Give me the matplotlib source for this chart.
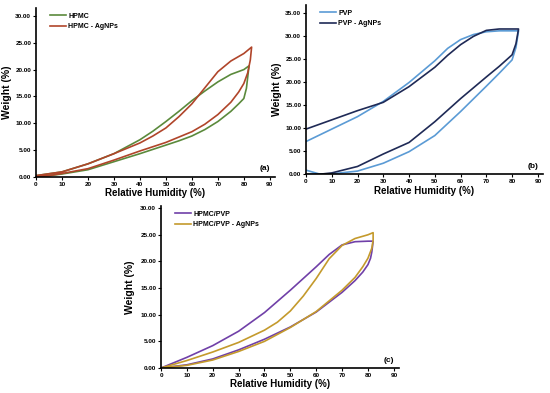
import matplotlib.pyplot as plt
from matplotlib.ticker import FormatStrFormatter, MultipleLocator

plt.rcParams['font.family'] = ['Liberation Sans', 'DejaVu Sans']
plt.rcParams['font.weight'] = 'bold'

# (a) HPMC  -- sorption then desorption branch
hpmc_rh = [0, 5, 10, 20, 30, 40, 50, 55, 60, 65, 70, 75, 78, 80, 81, 82,
           80, 75, 70, 65, 60, 55, 50, 45, 40, 30, 20, 10, 0]
hpmc_w = [0, 0.2, 0.5, 1.3, 2.8, 4.3, 5.9, 6.7, 7.6, 8.8, 10.3, 12.2, 13.6, 14.6, 16.5, 20.7,
          20.0, 19.1, 17.7, 16.0, 14.2, 12.2, 10.3, 8.5, 6.9, 4.3, 2.4, 0.9, 0.2]
hpmc_ag_rh = [0, 5, 10, 20, 30, 40, 50, 60, 65, 70, 75, 78, 80, 81.5, 82.5, 83,
              80, 75, 70, 65, 60, 55, 50, 45, 40, 30, 20, 10, 0]
hpmc_ag_w = [0, 0.2, 0.6, 1.5, 3.1, 4.8, 6.4, 8.4, 9.8, 11.6, 13.9, 15.8, 17.4, 19.4, 21.8, 24.2,
             23.0, 21.6, 19.6, 16.6, 13.6, 11.2, 9.1, 7.6, 6.3, 4.3, 2.4, 0.9, 0.2]

# (b) PVP
pvp_rh = [0, 5, 10, 20, 30, 40, 50, 60, 70, 75, 80, 81.5, 82.5,
          80, 75, 70, 65, 60, 55, 50, 40, 30, 20, 10, 0]
pvp_w = [0.9, 0.1, 0.1, 0.7, 2.4, 4.9, 8.4, 13.6, 19.1, 21.9, 24.8, 27.5, 31.1,
         31.1, 31.1, 30.9, 30.3, 29.2, 27.3, 24.6, 19.9, 15.8, 12.5, 9.8, 7.1]
pvp_ag_rh = [0, 5, 10, 20, 30, 40, 50, 60, 70, 75, 80, 81.5, 82.5,
             80, 75, 70, 65, 60, 55, 50, 40, 30, 20, 10, 0]
pvp_ag_w = [0, 0, 0.3, 1.7, 4.4, 6.9, 11.4, 16.4, 21.1, 23.4, 25.9, 28.3, 31.5,
            31.5, 31.5, 31.2, 29.9, 28.1, 25.8, 23.2, 19.0, 15.6, 13.8, 11.8, 9.8]

# (c) HPMC/PVP
blend_rh = [0, 10, 20, 30, 40, 50, 60, 70, 75, 78, 80, 81, 81.5, 82,
            80, 75, 70, 65, 60, 50, 40, 30, 20, 10, 0]
blend_w = [0, 0.6, 1.7, 3.4, 5.4, 7.7, 10.5, 14.2, 16.4, 18.0, 19.4, 20.6, 21.8, 23.8,
           23.8, 23.7, 23.1, 21.3, 19.0, 14.6, 10.4, 6.9, 4.2, 2.0, 0]
blend_ag_rh = [0, 10, 20, 30, 40, 50, 60, 70, 75, 78, 80, 81.5, 82, 82,
               80, 75, 70, 65, 60, 55, 50, 45, 40, 30, 20, 10, 0]
blend_ag_w = [0, 0.5, 1.5, 3.1, 5.0, 7.6, 10.6, 14.6, 17.0, 19.0, 20.6, 22.5, 24.0, 25.4,
              25.0, 24.3, 23.0, 20.5, 16.8, 13.5, 10.7, 8.6, 7.1, 4.8, 3.0, 1.4, 0]

W, H = 550, 393
fig = plt.figure(figsize=(W / 100, H / 100), dpi=100)


def panel(left, right, top, bottom, ymax, tag, ylab_x, series):
    ax = fig.add_axes([left / W, 1 - bottom / H, (right - left) / W, (bottom - top) / H])
    for x, y, c, lab in series:
        ax.plot(x, y, color=c, lw=1.2, label=lab, solid_joinstyle='round')
    ax.set_xlim(0, 92)
    ax.set_ylim(0, ymax)
    ax.xaxis.set_major_locator(MultipleLocator(10))
    ax.yaxis.set_major_locator(MultipleLocator(5))
    ax.yaxis.set_major_formatter(FormatStrFormatter('%.2f'))
    ax.spines['top'].set_visible(False)
    ax.spines['right'].set_visible(False)
    ax.spines['left'].set_linewidth(1.2)
    ax.spines['bottom'].set_linewidth(1.2)
    ax.tick_params(labelsize=4.6, length=2, width=0.8, pad=1.5)
    ax.set_xlabel('Relative Humidity (%)', fontsize=7, fontweight='bold', labelpad=1)
    ax.set_ylabel('Weight (%)', fontsize=7.5, fontweight='bold')
    ax.yaxis.set_label_coords(ylab_x, 0.5)
    ax.text(88, ymax * 0.025, tag, fontsize=6, fontweight='bold', ha='center', va='bottom')
    ax.legend(loc='upper left', bbox_to_anchor=(0.04, 1.0), frameon=False, fontsize=5,
              handlelength=2.3, borderaxespad=0.3, labelspacing=0.5, handletextpad=0.3)
    return ax


panel(36, 275, 8, 176.7, 31.5, '(a)', -0.1,
      [(hpmc_rh, hpmc_w, '#5b8a3c', 'HPMC'),
       (hpmc_ag_rh, hpmc_ag_w, '#b0452a', 'HPMC - AgNPs')])
panel(306, 543, 5, 174.3, 36.7, '(b)', -0.1,
      [(pvp_rh, pvp_w, '#5b9bd5', 'PVP'),
       (pvp_ag_rh, pvp_ag_w, '#1f2a56', 'PVP - AgNPs')])
panel(161, 399, 206, 368, 30.4, '(c)', -0.11,
      [(blend_rh, blend_w, '#7040a8', 'HPMC/PVP'),
       (blend_ag_rh, blend_ag_w, '#c49a2c', 'HPMC/PVP - AgNPs')])

fig.savefig('out.png', dpi=100)
